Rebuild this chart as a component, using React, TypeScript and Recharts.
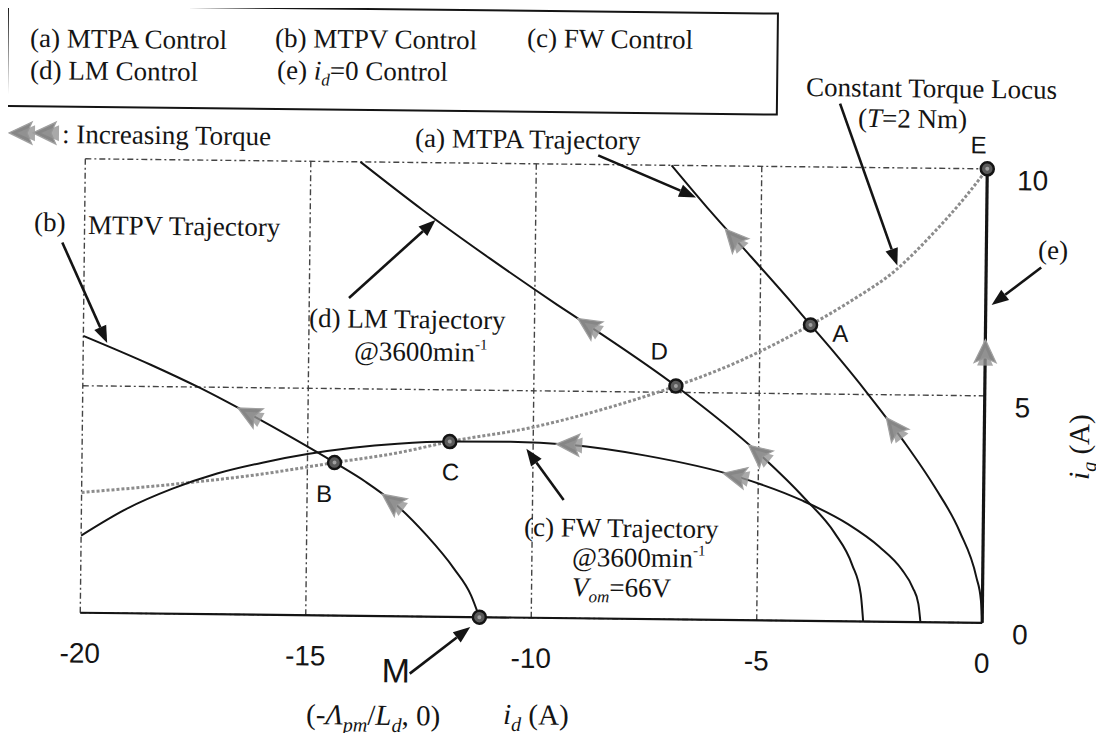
import { ComposedChart, Line, XAxis, YAxis, CartesianGrid, ReferenceLine } from 'recharts';

// axis ticks
const xTicks = [-20, -15, -10, -5, 0];
const yTicks = [0, 5, 10];

// (a) MTPA trajectory
const mtpa = [
  { id: -7.0, iq: 10 },
  { id: -6.13, iq: 9 },
  { id: -5.21, iq: 8 },
  { id: -4.3, iq: 7 },
  { id: -3.88, iq: 6.52 },
  { id: -3.42, iq: 6 },
  { id: -2.58, iq: 5 },
  { id: -1.8, iq: 4 },
  { id: -1.1, iq: 3 },
  { id: -0.52, iq: 2 },
  { id: -0.14, iq: 1 },
  { id: -0.035, iq: 0.5 },
  { id: 0, iq: 0 },
];

// (b) MTPV trajectory
const mtpv = [
  { id: -20, iq: 6.1 },
  { id: -18.5, iq: 5.48 },
  { id: -17.4, iq: 4.98 },
  { id: -16.3, iq: 4.42 },
  { id: -15.3, iq: 3.88 },
  { id: -14.4, iq: 3.37 },
  { id: -13.7, iq: 2.95 },
  { id: -13.1, iq: 2.52 },
  { id: -12.36, iq: 1.81 },
  { id: -11.73, iq: 1.07 },
  { id: -11.34, iq: 0.48 },
  { id: -11.15, iq: 0 },
];

// (c) FW trajectory @3600min-1
const fw = [
  { id: -20, iq: 1.7 },
  { id: -19, iq: 2.3 },
  { id: -18, iq: 2.75 },
  { id: -17, iq: 3.1 },
  { id: -16, iq: 3.35 },
  { id: -15, iq: 3.55 },
  { id: -14, iq: 3.7 },
  { id: -13, iq: 3.8 },
  { id: -11.85, iq: 3.86 },
  { id: -10.5, iq: 3.87 },
  { id: -9.2, iq: 3.82 },
  { id: -7.5, iq: 3.6 },
  { id: -5.5, iq: 3.17 },
  { id: -4, iq: 2.64 },
  { id: -3, iq: 2.14 },
  { id: -2.3, iq: 1.65 },
  { id: -1.8, iq: 1.16 },
  { id: -1.55, iq: 0.76 },
  { id: -1.42, iq: 0.4 },
  { id: -1.37, iq: 0 },
];

// (d) LM trajectory @3600min-1
const lm = [
  { id: -13.9, iq: 10 },
  { id: -12.5, iq: 8.95 },
  { id: -11, iq: 7.9 },
  { id: -9.5, iq: 6.9 },
  { id: -8.8, iq: 6.45 },
  { id: -6.85, iq: 5.14 },
  { id: -5.0, iq: 3.68 },
  { id: -3.96, iq: 2.69 },
  { id: -3.3, iq: 1.95 },
  { id: -2.9, iq: 1.25 },
  { id: -2.7, iq: 0.6 },
  { id: -2.64, iq: 0 },
];

// (e) id = 0 control
const idZero = [
  { id: 0, iq: 10 },
  { id: 0, iq: 0 },
];

// constant torque locus T = 2 Nm
const torqueLocus = [
  { id: -20, iq: 2.65 },
  { id: -18, iq: 2.85 },
  { id: -16, iq: 3.1 },
  { id: -14.4, iq: 3.37 },
  { id: -13, iq: 3.6 },
  { id: -11.85, iq: 3.86 },
  { id: -10, iq: 4.2 },
  { id: -8.5, iq: 4.6 },
  { id: -6.85, iq: 5.14 },
  { id: -5.5, iq: 5.68 },
  { id: -3.88, iq: 6.52 },
  { id: -3, iq: 7.05 },
  { id: -2, iq: 7.75 },
  { id: -1.2, iq: 8.55 },
  { id: -0.5, iq: 9.35 },
  { id: 0, iq: 10 },
];

// operating points
const keyPoints = [
  { name: 'B', id: -14.4, iq: 3.37 },
  { name: 'C', id: -11.85, iq: 3.86 },
  { name: 'M', id: -11.15, iq: 0 },
  { name: 'D', id: -6.85, iq: 5.14 },
  { name: 'A', id: -3.88, iq: 6.52 },
  { name: 'E', id: 0, iq: 10 },
];

// "increasing torque" marks sitting on the trajectories
const torqueMarks = [
  { series: 'b', id: -16.3, iq: 4.42 },
  { series: 'b', id: -13.1, iq: 2.52 },
  { series: 'd', id: -8.8, iq: 6.45 },
  { series: 'c', id: -9.2, iq: 3.82 },
  { series: 'a', id: -5.6, iq: 8.4 },
  { series: 'c', id: -5.5, iq: 3.17 },
  { series: 'd', id: -5.0, iq: 3.68 },
  { series: 'a', id: -2.0, iq: 4.27 },
  { series: 'e', id: 0, iq: 5.95 },
];

// annotation pointers, [id, iq] from -> to
const pointers = [
  { from: [-20.49, 8.15], to: [-19.47, 5.95] },
  { from: [-14.12, 7.0], to: [-12.22, 8.74] },
  { from: [-8.63, 10.2], to: [-6.45, 9.3] },
  { from: [-3.28, 11.4], to: [-1.97, 7.85] },
  { from: [1.22, 7.84], to: [0.13, 7.0] },
  { from: [-9.31, 2.6], to: [-10.15, 3.72] },
  { from: [-12.68, -1.26], to: [-11.35, -0.22] },
];

const seriesByKey: Record<string, { id: number; iq: number }[]> = { a: mtpa, b: mtpv, c: fw, d: lm, e: idZero };

const serif = '"Liberation Serif", "Times New Roman", serif';
const sans = '"Liberation Sans", Arial, sans-serif';
const ink = '#141414';

// the scan is turned slightly clockwise
const TILT = 0.64;
const CX = 544;
const CY = 362;
const rad = (TILT * Math.PI) / 180;
// page coords -> coords inside the tilted box
const at = (x: number, y: number) => {
  const px = x - 8 - CX;
  const py = y - 8 - CY;
  return {
    x: CX + px * Math.cos(rad) + py * Math.sin(rad),
    y: CY - px * Math.sin(rad) + py * Math.cos(rad),
  };
};

const labelOffset: Record<string, [number, number, number]> = {
  E: [-9, -24, 24],
  A: [30, 8, 24],
  D: [-17, -35, 24],
  C: [1, 30, 24],
  B: [-10, 31, 24],
  M: [-83, 54, 34],
};

// direction of increasing torque along a series (screen degrees)
function heading(m: { series: string; id: number; iq: number }) {
  const pts = seriesByKey[m.series];
  let best = 0;
  let bestD = Infinity;
  for (let i = 0; i < pts.length - 1; i++) {
    const ax = pts[i].id, ay = pts[i].iq, bx = pts[i + 1].id, by = pts[i + 1].iq;
    const vx = bx - ax, vy = by - ay;
    const len2 = vx * vx + vy * vy || 1;
    const t = Math.max(0, Math.min(1, ((m.id - ax) * vx + (m.iq - ay) * vy) / len2));
    const dx = ax + t * vx - m.id, dy = ay + t * vy - m.iq;
    const d = dx * dx + dy * dy;
    if (d < bestD) {
      bestD = d;
      best = i;
    }
  }
  const p0 = pts[best], p1 = pts[best + 1];
  return (Math.atan2(-(p0.iq - p1.iq), p0.id - p1.id) * 180) / Math.PI;
}

const Wedge = ({ x, y, angle }: { x: number; y: number; angle: number }) => (
  <g transform={`translate(${x},${y}) rotate(${angle})`}>
    <polygon points="13,0 -10,-11 -5,0 -10,11" fill="#868686" stroke="#a0a0a0" strokeWidth={1.2} />
    <polygon points="5,0 -13,-8 -13,8" fill="#939393" opacity={0.8} />
  </g>
);

const renderKeyDot = (p: any) => {
  const { cx, cy, payload, index } = p;
  const [dx, dy, fs] = labelOffset[payload.name];
  return (
    <g key={`kp-${index}`}>
      <circle cx={cx} cy={cy} r={6.5} fill="#5a5a5a" stroke={ink} strokeWidth={2.5} />
      <circle cx={cx} cy={cy} r={2} fill="#a0a0a0" />
      <text x={cx + dx} y={cy + dy + fs * 0.36} textAnchor="middle" fontFamily={sans} fontSize={fs} fill={ink}>
        {payload.name}
      </text>
    </g>
  );
};

const renderMark = (p: any) => {
  const { cx, cy, payload, index } = p;
  return (
    <g key={`tm-${index}`}>
      <Wedge x={cx} y={cy} angle={heading(payload)} />
    </g>
  );
};

const renderPointer = (p: any) => {
  const { x1, y1, x2, y2 } = p;
  const a = Math.atan2(y2 - y1, x2 - x1);
  const L = 17;
  const W = 6.5;
  const bx = x2 - L * Math.cos(a);
  const by = y2 - L * Math.sin(a);
  const pts = `${x2},${y2} ${bx + W * Math.sin(a)},${by - W * Math.cos(a)} ${bx - W * Math.sin(a)},${by + W * Math.cos(a)}`;
  return (
    <g>
      <line x1={x1} y1={y1} x2={bx} y2={by} stroke={ink} strokeWidth={2.6} />
      <polygon points={pts} fill={ink} />
    </g>
  );
};

const renderXTick = (p: any) => (
  <text x={p.x} y={p.y + 48} textAnchor="middle" fontFamily={sans} fontSize={28} fill={ink}>
    {p.payload.value}
  </text>
);

const renderYTick = (p: any) => (
  <text x={p.x + 28} y={p.y + 21} textAnchor="start" fontFamily={sans} fontSize={28} fill={ink}>
    {p.payload.value}
  </text>
);

const T = ({ x, y, size = 27, children, anchor = 'start' }: any) => {
  const q = at(x, y);
  return (
    <text x={q.x} y={q.y} fontFamily={serif} fontSize={size} fill={ink} textAnchor={anchor}>
      {children}
    </text>
  );
};

export default function App() {
  const ylab = at(1080, 447);
  const box = at(8, 5);
  const w1 = at(22, 133);
  const w2 = at(46, 133);
  return (
    <div style={{ position: 'relative', width: 1088, height: 725, transform: `rotate(${TILT}deg)`, transformOrigin: `${CX}px ${CY}px` }}>
      <ComposedChart width={1088} height={725} margin={{ top: 156, right: 51, bottom: 85, left: 75 }}>
        <CartesianGrid stroke="#444" strokeWidth={1.4} strokeDasharray="6 3 2 3" />
        <XAxis
          type="number"
          dataKey="id"
          domain={[-20, 0]}
          ticks={xTicks}
          axisLine={{ stroke: ink, strokeWidth: 2.2 }}
          tickLine={false}
          tickSize={0}
          tick={renderXTick}
          height={30}
        />
        <YAxis
          type="number"
          orientation="right"
          domain={[0, 10]}
          ticks={yTicks}
          axisLine={false}
          tickLine={false}
          tickSize={0}
          tick={renderYTick}
          width={60}
        />
        <Line data={torqueLocus} dataKey="iq" type="monotone" stroke="#8c8c8c" strokeWidth={3} strokeDasharray="3 2" dot={false} activeDot={false} isAnimationActive={false} />
        <Line data={fw} dataKey="iq" type="monotone" stroke={ink} strokeWidth={2} dot={false} activeDot={false} isAnimationActive={false} />
        <Line data={mtpv} dataKey="iq" type="monotone" stroke={ink} strokeWidth={2} dot={false} activeDot={false} isAnimationActive={false} />
        <Line data={lm} dataKey="iq" type="monotone" stroke={ink} strokeWidth={2} dot={false} activeDot={false} isAnimationActive={false} />
        <Line data={mtpa} dataKey="iq" type="monotone" stroke={ink} strokeWidth={2} dot={false} activeDot={false} isAnimationActive={false} />
        <Line data={idZero} dataKey="iq" type="linear" stroke={ink} strokeWidth={3.2} dot={false} activeDot={false} isAnimationActive={false} />
        {pointers.map((a, i) => (
          <ReferenceLine
            key={`ptr-${i}`}
            segment={[{ x: a.from[0], y: a.from[1] }, { x: a.to[0], y: a.to[1] }]}
            ifOverflow="visible"
            shape={renderPointer}
          />
        ))}
        <Line data={torqueMarks} dataKey="iq" type="linear" stroke="none" dot={renderMark} activeDot={false} isAnimationActive={false} />
        <Line data={keyPoints} dataKey="iq" type="linear" stroke="none" dot={renderKeyDot} activeDot={false} isAnimationActive={false} />
      </ComposedChart>

      <svg width={1088} height={725} style={{ position: 'absolute', left: 0, top: 0, pointerEvents: 'none', overflow: 'visible' }}>
        <rect x={box.x} y={box.y} width={770} height={101} fill="none" stroke={ink} strokeWidth={2} />
        <T x={30} y={47}>(a) MTPA Control</T>
        <T x={275} y={47}>(b) MTPV Control</T>
        <T x={527} y={47}>(c) FW Control</T>
        <T x={30} y={79}>(d) LM Control</T>
        <T x={277} y={79}>
          (e) <tspan fontStyle="italic">i</tspan>
          <tspan fontStyle="italic" fontSize={17} dy={6}>d</tspan>
          <tspan dy={-6}>=0 Control</tspan>
        </T>

        <Wedge x={w1.x} y={w1.y} angle={180} />
        <Wedge x={w2.x} y={w2.y} angle={180} />
        <T x={62} y={143}>: Increasing Torque</T>
        <T x={415} y={147}>(a) MTPA Trajectory</T>
        <T x={806} y={96}>Constant Torque Locus</T>
        <T x={858} y={127}>
          (<tspan fontStyle="italic">T</tspan>=2 Nm)
        </T>
        <T x={1038} y={259}>(e)</T>
        <T x={34} y={231}>(b)</T>
        <T x={88} y={234}>MTPV Trajectory</T>
        <T x={309} y={327}>(d) LM Trajectory</T>
        <T x={354} y={360}>
          @3600min<tspan fontSize={15} dy={-12}>-1</tspan>
        </T>
        <T x={524} y={536}>(c) FW Trajectory</T>
        <T x={572} y={566}>
          @3600min<tspan fontSize={15} dy={-12}>-1</tspan>
        </T>
        <T x={572} y={596}>
          <tspan fontStyle="italic">V</tspan>
          <tspan fontStyle="italic" fontSize={17} dy={6}>om</tspan>
          <tspan dy={-6}>=66V</tspan>
        </T>
        <T x={306} y={724} size={29}>
          (-<tspan fontStyle="italic">Λ</tspan>
          <tspan fontStyle="italic" fontSize={20} dy={7}>pm</tspan>
          <tspan dy={-7}>/</tspan>
          <tspan fontStyle="italic">L</tspan>
          <tspan fontStyle="italic" fontSize={20} dy={7}>d</tspan>
          <tspan dy={-7}>, 0)</tspan>
        </T>
        <T x={503} y={724} size={29}>
          <tspan fontStyle="italic">i</tspan>
          <tspan fontStyle="italic" fontSize={20} dy={7}>d</tspan>
          <tspan dy={-7}> (A)</tspan>
        </T>
        <text
          x={ylab.x}
          y={ylab.y + 9}
          transform={`rotate(-90 ${ylab.x} ${ylab.y})`}
          textAnchor="middle"
          fontFamily={serif}
          fontSize={29}
          fill={ink}
        >
          <tspan fontStyle="italic">i</tspan>
          <tspan fontStyle="italic" fontSize={20} dy={7}>q</tspan>
          <tspan dy={-7}> (A)</tspan>
        </text>
      </svg>
    </div>
  );
}
